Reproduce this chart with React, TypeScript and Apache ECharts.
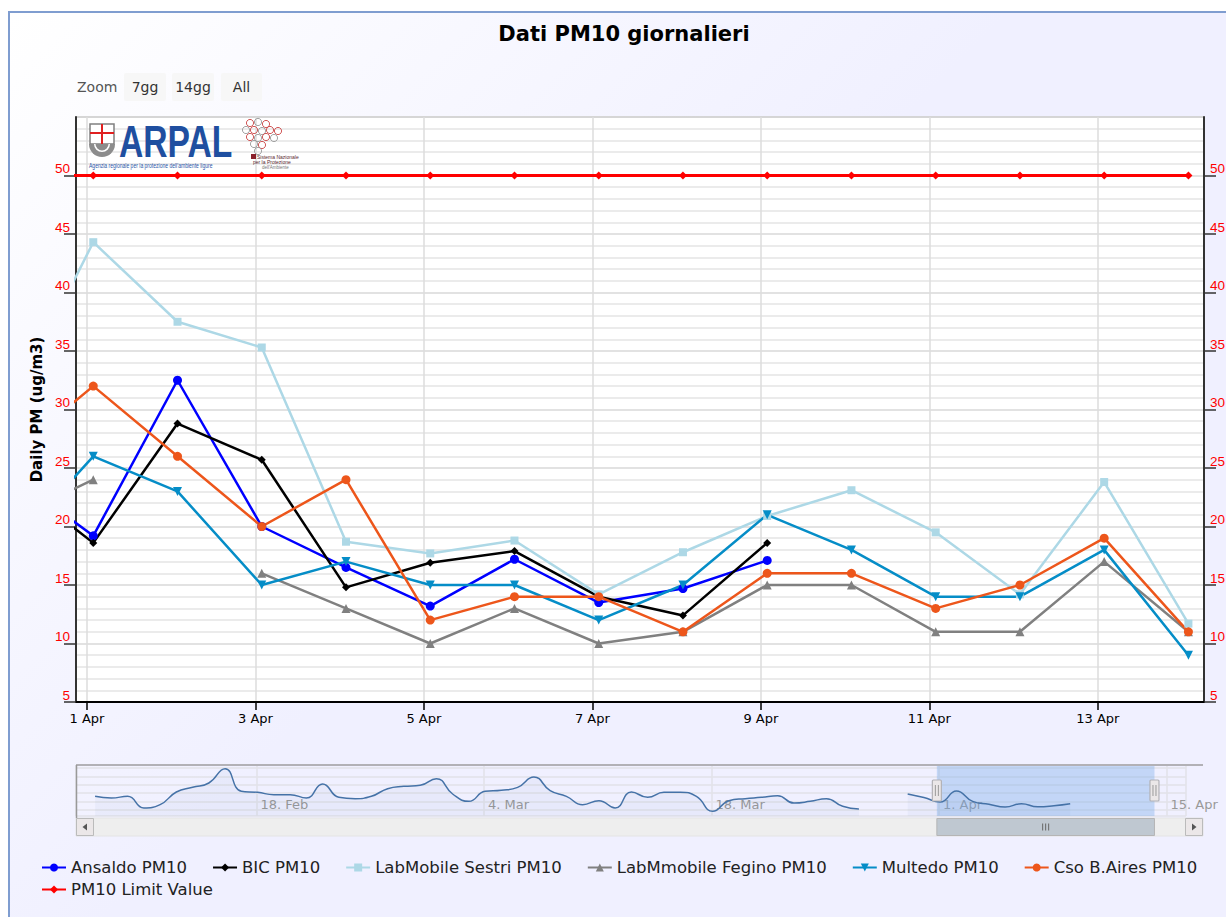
import React, { useEffect, useRef } from 'react';
import * as echarts from 'echarts';

// ---------- data ----------
// days counted from 1 April (31 Mar = -1)
const dayLabels = ['31 Mar', '1 Apr', '2 Apr', '3 Apr', '4 Apr', '5 Apr', '6 Apr', '7 Apr', '8 Apr', '9 Apr', '10 Apr', '11 Apr', '12 Apr', '13 Apr', '14 Apr'];
const dayNumbers = [-1, 0, 1, 2, 3, 4, 5, 6, 7, 8, 9, 10, 11, 12, 13];

const ansaldo = [24.5, 19.2, 32.5, 20.0, 16.5, 13.2, 17.2, 13.5, 14.7, 17.1];
const bic = [24.2, 18.6, 28.8, 25.7, 14.8, 16.9, 17.9, 14.0, 12.4, 18.6];
const labMobileSestri = [30.0, 44.3, 37.5, 35.3, 18.7, 17.7, 18.8, 14.2, 17.8, 20.9, 23.1, 19.5, 14.2, 23.8, 11.7];
const labMobileFegino = [20.6, 24, null, 16, 13, 10, 13, 10, 11, 15, 15, 11, 11, 17, 11];
const multedo = [18, 26, 23, 15, 17, 15, 15, 12, 15, 21, 18, 14, 14, 18, 9];
const csoBAires = [26, 32, 26, 20, 24, 12, 14, 14, 11, 16, 16, 13, 15, 19, 11];
const limitValue = [50, 50, 50, 50, 50, 50, 50, 50, 50, 50, 50, 50, 50, 50, 50];

// navigator: Ansaldo PM10 history, 8 Feb (day -52) .. 30 Mar (day -2)
const historyFirstDay = -52;
const ansaldoHistory = [
  26.0, 24.0, 26.0, 12.0, 16.0, 31.2, 36.8, 42.0, 59.2, 32.0,
  30.8, 28.0, 28.0, 24.0, 40.8, 24.8, 23.2, 26.0, 35.2, 38.0,
  39.2, 47.2, 28.8, 20.0, 32.0, 33.2, 36.8, 49.2, 32.8, 26.0,
  16.0, 20.8, 12.0, 31.2, 24.8, 30.8, 30.8, 26.0, 8.0, 20.8,
  23.2, 24.8, 26.8, 18.0, 20.0, 23.2, 14.0, 10.8, null, null,
  28.8,
];

const legendNames = ['Ansaldo PM10', 'BIC PM10', 'LabMobile Sestri PM10', 'LabMmobile Fegino PM10', 'Multedo PM10', 'Cso B.Aires PM10'];
const limitName = 'PM10 Limit Value';
const monthNames = ['Jan', 'Feb', 'Mar', 'Apr', 'May', 'Jun', 'Jul', 'Aug', 'Sep', 'Oct', 'Nov', 'Dec'];
const zoomButtons = ['7gg', '14gg', 'All'];

// ---------- layout / style ----------
const FONT = 'DejaVu Sans';
const NUM_FONT = 'Liberation Sans';
const READING_OFFSET = 1.8 / 24; // readings are stamped a little after midnight
const VIEW_START = -0.13;
const VIEW_END = 13.26;
const NAV_MIN = -53.1;
const NAV_MAX = 15.2;
const BASE = Date.UTC(2019, 3, 1);

const dateOf = (v: number) => new Date(BASE + Math.round(v) * 86400000);
const mainLabel = (v: number) => { const d = dateOf(v); return `${d.getUTCDate()} ${monthNames[d.getUTCMonth()]}`; };
const navLabel = (v: number) => { const d = dateOf(v); return `${d.getUTCDate()}. ${monthNames[d.getUTCMonth()]}`; };

const toPairs = (vals: (number | null)[]) => vals.map((v, i) => [dayNumbers[i] + READING_OFFSET, v == null ? '-' : v]);
const navValues = [...ansaldoHistory, ...ansaldo];
const navPairs = navValues.map((v, i) => [historyFirstDay + i + READING_OFFSET, v == null ? '-' : v]);

const DOWN_TRI = 'path://M0,0L10,0L5,9Z';

function lineSeries(name: string, vals: (number | null)[], color: string, symbol: string, size: number, width = 2.5) {
  return {
    name, type: 'line', xAxisIndex: 0, yAxisIndex: 0,
    data: toPairs(vals), symbol, symbolSize: size, showSymbol: true,
    lineStyle: { color, width }, itemStyle: { color },
    connectNulls: false, emphasis: { disabled: true }, clip: true,
  };
}

function baseGraphics(): any[] {
  const g: any[] = [];
  g.push({ id: 'title', type: 'text', x: 624, y: 34, z: 100, style: { text: 'Dati PM10 giornalieri', fill: '#000', font: `bold 21px "${FONT}"`, align: 'center', verticalAlign: 'middle' } });
  g.push({ id: 'zoomLbl', type: 'text', x: 77, y: 87, style: { text: 'Zoom', fill: '#555', font: `14px "${FONT}"`, verticalAlign: 'middle' } });
  const bx = [124, 172, 221];
  const bw = [42, 42, 41];
  zoomButtons.forEach((b, i) => {
    g.push({ id: 'zb' + i, type: 'rect', shape: { x: bx[i], y: 73, width: bw[i], height: 28, r: 2 }, style: { fill: '#f7f7f7', stroke: 'none' } });
    g.push({ id: 'zt' + i, type: 'text', x: bx[i] + bw[i] / 2, y: 87, style: { text: b, fill: '#333', font: `14px "${FONT}"`, align: 'center', verticalAlign: 'middle' } });
  });
  // ARPAL logo
  g.push({ id: 'sh1', type: 'rect', z: 100, shape: { x: 90, y: 124, width: 24, height: 20 }, style: { fill: '#fff', stroke: '#808080', lineWidth: 1.5 } });
  g.push({ id: 'sh2', type: 'line', z: 101, shape: { x1: 102, y1: 124, x2: 102, y2: 144 }, style: { stroke: '#e02020', lineWidth: 2 } });
  g.push({ id: 'sh3', type: 'line', z: 101, shape: { x1: 90, y1: 133, x2: 114, y2: 133 }, style: { stroke: '#e02020', lineWidth: 2 } });
  g.push({ id: 'sh4', type: 'sector', z: 100, shape: { cx: 102, cy: 144, r: 13, r0: 0, startAngle: 0, endAngle: Math.PI }, style: { fill: '#8c8c8c' } });
  g.push({ id: 'sh5', type: 'sector', z: 101, shape: { cx: 102, cy: 144, r: 8, r0: 6.5, startAngle: 0, endAngle: Math.PI }, style: { fill: '#ffffff' } });
  g.push({ id: 'arpal', type: 'text', z: 100, x: 119, y: 142, scaleX: 0.765, style: { text: 'ARPAL', fill: '#1f4fa0', font: 'bold 44px "Liberation Sans"', verticalAlign: 'middle' } });
  g.push({ id: 'arpal2', type: 'text', z: 100, x: 89, y: 165, scaleX: 0.72, style: { text: "Agenzia regionale per la protezione dell'ambiente ligure", fill: '#2a56a8', font: '7px "Liberation Sans"', verticalAlign: 'middle' } });
  // SNPA logo
  const rings: [number, number, string][] = [
    [250, 123, '#c44'], [258, 122, '#999'], [266, 124, '#c44'],
    [246, 130, '#999'], [254, 130, '#c44'], [262, 131, '#999'], [270, 130, '#c44'], [278, 131, '#c44'],
    [250, 137, '#c44'], [258, 138, '#999'], [266, 137, '#c44'], [274, 138, '#999'],
    [254, 144, '#999'], [262, 145, '#c44'], [258, 151, '#999'],
  ];
  rings.forEach((r, i) => g.push({ id: 'ring' + i, type: 'circle', z: 100, shape: { cx: r[0], cy: r[1], r: 3.6 }, style: { fill: 'none', stroke: r[2], lineWidth: 0.9 } }));
  g.push({ id: 'snpaBox', type: 'rect', z: 100, shape: { x: 251, y: 154, width: 5, height: 5 }, style: { fill: '#8a1f2a' } });
  g.push({ id: 'snpa1', type: 'text', z: 100, x: 257, y: 157, style: { text: 'Sistema Nazionale', fill: '#5a2a30', font: '5px "Liberation Sans"', verticalAlign: 'middle' } });
  g.push({ id: 'snpa2', type: 'text', z: 100, x: 253, y: 162, style: { text: 'per la Protezione', fill: '#5a2a30', font: '5px "Liberation Sans"', verticalAlign: 'middle' } });
  g.push({ id: 'snpa3', type: 'text', z: 100, x: 262, y: 167, style: { text: "dell'Ambiente", fill: '#777', font: '4.5px "Liberation Sans"', verticalAlign: 'middle' } });
  // navigator outline
  g.push({ id: 'navTop', type: 'line', z: 50, shape: { x1: 76, y1: 765, x2: 1203, y2: 765 }, style: { stroke: '#b2b1b6', lineWidth: 2 } });
  g.push({ id: 'navLeft', type: 'line', z: 50, shape: { x1: 76.5, y1: 765, x2: 76.5, y2: 818 }, style: { stroke: '#999', lineWidth: 1.5 } });
  // scrollbar
  g.push({ id: 'sbTrack', type: 'rect', z: 40, shape: { x: 76, y: 818, width: 1127, height: 18 }, style: { fill: '#eeeeee', stroke: '#e4e4e4', lineWidth: 1 } });
  g.push({ id: 'sbL', type: 'rect', z: 41, shape: { x: 76.5, y: 818.5, width: 17, height: 17 }, style: { fill: '#ebe7e8', stroke: '#bbbbbb', lineWidth: 1 } });
  g.push({ id: 'sbLa', type: 'polygon', z: 42, shape: { points: [[87, 823.5], [87, 830.5], [82.5, 827]] }, style: { fill: '#555' } });
  g.push({ id: 'sbR', type: 'rect', z: 41, shape: { x: 1185.5, y: 818.5, width: 17, height: 17 }, style: { fill: '#ebe7e8', stroke: '#bbbbbb', lineWidth: 1 } });
  g.push({ id: 'sbRa', type: 'polygon', z: 42, shape: { points: [[1192, 823.5], [1192, 830.5], [1196.5, 827]] }, style: { fill: '#555' } });
  return g;
}

function navGraphics(x0: number, x1: number): any[] {
  const g: any[] = [];
  const cx = (x0 + x1) / 2;
  g.push({ id: 'thumb', type: 'rect', z: 41, shape: { x: x0, y: 818.5, width: x1 - x0, height: 17 }, style: { fill: '#bfc8d1', stroke: '#b5b5b5', lineWidth: 1 } });
  [-3, 0, 3].forEach((d, i) => g.push({ id: 'rifle' + i, type: 'line', z: 42, shape: { x1: cx + d, y1: 823.5, x2: cx + d, y2: 830.5 }, style: { stroke: '#666', lineWidth: 1 } }));
  [x0, x1].forEach((x, i) => {
    g.push({ id: 'hdl' + i, type: 'rect', z: 60, shape: { x: x - 4.5, y: 780, width: 9, height: 21, r: 1 }, style: { fill: '#ebe7e8', stroke: '#b2b1b6', lineWidth: 1.2 } });
    g.push({ id: 'hdla' + i, type: 'line', z: 61, shape: { x1: x - 1.5, y1: 785, x2: x - 1.5, y2: 796 }, style: { stroke: '#999', lineWidth: 1 } });
    g.push({ id: 'hdlb' + i, type: 'line', z: 61, shape: { x1: x + 1.5, y1: 785, x2: x + 1.5, y2: 796 }, style: { stroke: '#999', lineWidth: 1 } });
  });
  return g;
}

function buildOption(): any {
  const yCommon = {
    type: 'value', gridIndex: 0, min: 5, max: 55, interval: 5,
    axisLine: { show: true, onZero: false, lineStyle: { color: '#333', width: 2 } },
    axisTick: { show: true, length: 12, lineStyle: { color: '#333', width: 1.5 } },
  };
  const yLabel = { color: '#ff0000', fontSize: 13.5, verticalAlign: 'bottom', showMaxLabel: false, fontFamily: NUM_FONT };
  const legendCommon = {
    left: 41, orient: 'horizontal', padding: 0, itemWidth: 24, itemHeight: 10, itemGap: 25, itemTextGap: 4,
    textStyle: { fontSize: 16.5, color: '#222', fontFamily: FONT }, selectedMode: false,
  };
  return {
    animation: false,
    backgroundColor: 'transparent',
    textStyle: { fontFamily: FONT },
    grid: [
      { left: 76, right: 22, top: 117, bottom: 215, show: true, backgroundColor: '#ffffff', borderColor: '#c0c0c0', borderWidth: 1.5, containLabel: false, outerBoundsMode: 'none' },
      { left: 76, right: 40, top: 765, height: 51, show: false, containLabel: false, outerBoundsMode: 'none' },
    ],
    xAxis: [
      {
        type: 'value', gridIndex: 0, min: VIEW_START, max: VIEW_END, minInterval: 2, maxInterval: 2,
        axisLine: { show: true, onZero: false, lineStyle: { color: '#000', width: 2 } },
        axisTick: { show: true, length: 8, lineStyle: { color: '#000', width: 1.5 } },
        axisLabel: { formatter: mainLabel, color: '#000', fontSize: 13, margin: 10, showMinLabel: false, showMaxLabel: false, fontFamily: FONT },
        splitLine: { show: true, lineStyle: { color: '#dcdcdc', width: 1.5 } },
      },
      {
        type: 'value', gridIndex: 1, min: NAV_MIN, max: NAV_MAX, minInterval: 14, maxInterval: 14,
        axisLine: { show: false, onZero: false }, axisTick: { show: false },
        axisLabel: { inside: true, formatter: navLabel, color: '#999', fontSize: 13, margin: 5, align: 'left', padding: [0, 0, 0, 4], showMinLabel: false, showMaxLabel: false, fontFamily: FONT },
        splitLine: { show: true, lineStyle: { color: '#e2e2e8', width: 1.5 } },
      },
    ],
    yAxis: [
      {
        ...yCommon, position: 'left',
        name: 'Daily PM (ug/m3)', nameLocation: 'middle', nameGap: 32,
        nameTextStyle: { fontWeight: 'bold', fontSize: 15, color: '#000', fontFamily: FONT },
        axisLabel: { ...yLabel, margin: 6 },
        splitLine: { show: true, lineStyle: { color: '#d9d9d9', width: 1.5 } },
        minorTick: { show: false, splitNumber: 5 },
        minorSplitLine: { show: true, lineStyle: { color: '#e4e4e4', width: 1.5 } },
      },
      {
        ...yCommon, position: 'right',
        axisLabel: { ...yLabel, margin: 6 },
        splitLine: { show: false },
      },
      {
        type: 'value', gridIndex: 1, min: 2.4, max: 63.6, minInterval: 10, maxInterval: 10,
        axisLine: { show: false, onZero: false }, axisTick: { show: false }, axisLabel: { show: false },
        splitLine: { show: true, lineStyle: { color: '#e2e2e8', width: 1.5 } },
      },
    ],
    legend: [
      { ...legendCommon, data: legendNames, top: 859 },
      { ...legendCommon, data: [limitName], top: 881 },
    ],
    series: [
      lineSeries('Ansaldo PM10', ansaldo, '#0000ff', 'circle', 9),
      lineSeries('BIC PM10', bic, '#000000', 'diamond', 8),
      lineSeries('LabMobile Sestri PM10', labMobileSestri, '#add8e6', 'rect', 8),
      lineSeries('LabMmobile Fegino PM10', labMobileFegino, '#808080', 'triangle', 9),
      lineSeries('Multedo PM10', multedo, '#058dc7', DOWN_TRI, 9),
      lineSeries('Cso B.Aires PM10', csoBAires, '#ed561b', 'circle', 9),
      lineSeries(limitName, limitValue, '#ff0000', 'diamond', 8, 3),
      {
        name: 'navigator', type: 'line', xAxisIndex: 1, yAxisIndex: 2, data: navPairs,
        smooth: true, showSymbol: false, silent: true, connectNulls: false,
        lineStyle: { color: '#4572a7', width: 1.5 }, itemStyle: { color: '#4572a7' },
        areaStyle: { color: 'rgba(69,114,167,0.07)' },
        markArea: {
          silent: true,
          itemStyle: { color: 'rgba(120,170,235,0.38)' },
          data: [[{ xAxis: VIEW_START }, { xAxis: VIEW_END }]],
        },
      },
    ],
    graphic: baseGraphics(),
  };
}

export default function App() {
  const ref = useRef<HTMLDivElement>(null);
  useEffect(() => {
    if (!ref.current) return;
    const chart = echarts.init(ref.current, null, { renderer: 'svg' });
    chart.setOption(buildOption());
    const x0 = chart.convertToPixel({ xAxisIndex: 1 } as any, VIEW_START) as number;
    const x1 = chart.convertToPixel({ xAxisIndex: 1 } as any, VIEW_END) as number;
    chart.setOption({ graphic: [...baseGraphics(), ...navGraphics(x0, x1)] });
    return () => chart.dispose();
  }, []);
  return (
    <div style={{ position: 'fixed', left: 0, top: 0, width: 1226, height: 917, overflow: 'hidden', background: '#ffffff' }}>
      <div style={{ position: 'absolute', left: 8, top: 11, width: 1300, height: 1000, border: '2px solid #7f9dd0', boxSizing: 'border-box', background: 'linear-gradient(135deg, #ffffff 0px, #f0f0ff 707px)' }} />
      <div ref={ref} style={{ position: 'absolute', left: 0, top: 0, width: 1226, height: 917 }} />
    </div>
  );
}
